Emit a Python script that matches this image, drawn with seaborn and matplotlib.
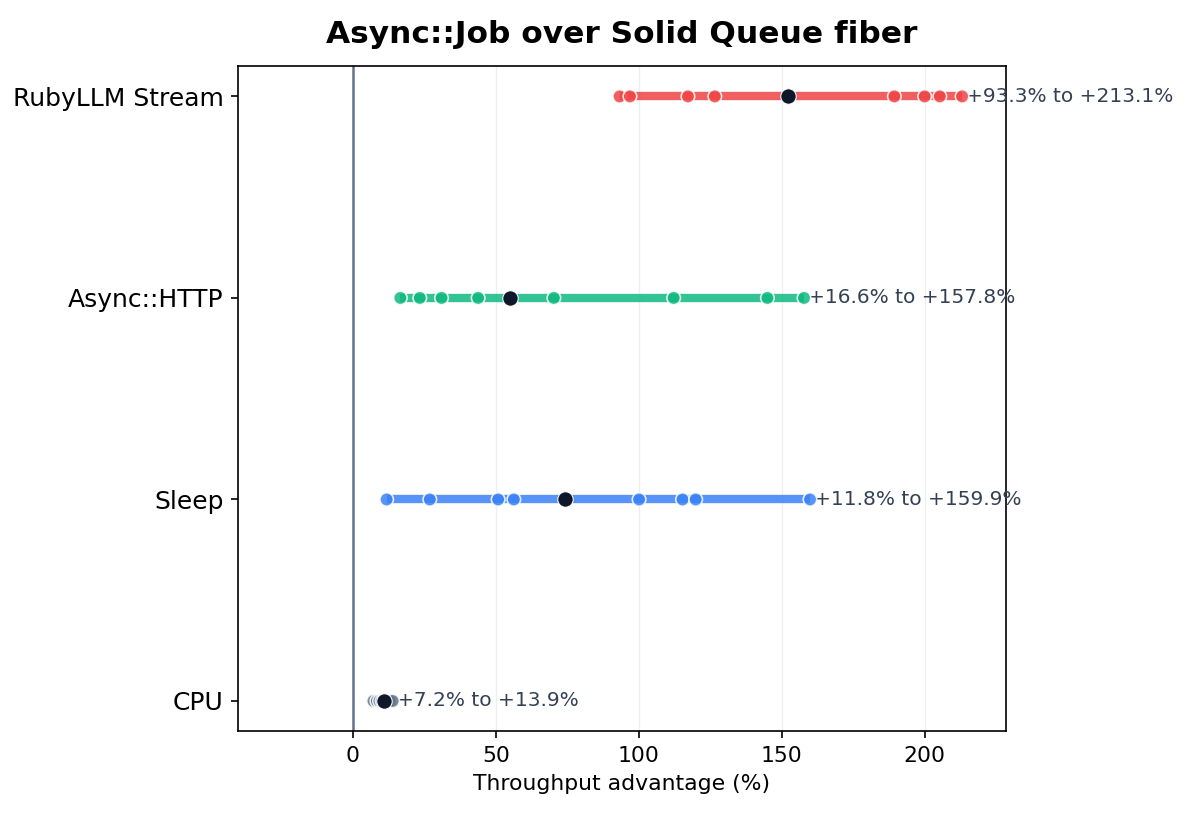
import pandas as pd
import seaborn as sns
import matplotlib.pyplot as plt

workloads = ['CPU', 'Sleep', 'Async::HTTP', 'RubyLLM Stream']
colors = ['#64748b', '#3b82f6', '#10b981', '#ef4444']

cpu_runs = [7.2, 8.4, 9.3, 10.2, 11.0, 12.1, 13.0, 13.9]
sleep_runs = [11.8, 26.9, 50.8, 56.3, 100.1, 115.3, 119.9, 159.9]
http_runs = [16.6, 23.4, 31.0, 43.8, 70.3, 112.2, 145.0, 157.8]
llm_runs = [93.3, 96.9, 117.2, 126.6, 189.4, 200.0, 205.3, 213.1]
centers = [10.8, 74.1, 54.9, 152.1]

runs = [cpu_runs, sleep_runs, http_runs, llm_runs]

rows = []
for i, (name, vals) in enumerate(zip(workloads, runs)):
    for v in vals:
        rows.append({'workload': name, 'pos': i, 'advantage': v})
df = pd.DataFrame(rows)

sns.set_style('ticks', {'text.color': 'black', 'axes.labelcolor': 'black',
                        'xtick.color': 'black', 'ytick.color': 'black',
                        'axes.edgecolor': 'black'})
plt.rcParams['font.family'] = ['DejaVu Sans']

fig = plt.figure(figsize=(1190 / 150, 817 / 150), dpi=150)
ax = fig.add_axes([0.2, 0.105, 0.645, 0.814])

ax.axvline(0, color='#64748b', lw=1.2, zorder=1)

for i, vals in enumerate(runs):
    ax.hlines(i, min(vals), max(vals), color=colors[i], lw=4, alpha=0.85, zorder=2)
    ax.text(max(vals) + 1.5, i, f'+{min(vals):.1f}% to +{max(vals):.1f}%',
            va='center', ha='left', fontsize=9.7, color='#334155')

sns.scatterplot(data=df, x='advantage', y='pos', hue='workload', hue_order=workloads,
                palette=colors, s=42, alpha=0.85, edgecolor='white', linewidth=0.8,
                legend=False, ax=ax, zorder=3)
sns.scatterplot(x=centers, y=list(range(len(workloads))), color='#0f172a', s=55,
                edgecolor='white', linewidth=0.5, ax=ax, zorder=4)

ax.set_yticks(range(len(workloads)))
ax.set_yticklabels(workloads, fontsize=12)
ax.set_ylim(-0.15, 3.15)
ax.set_xlim(-40.2, 228.3)
ax.set_xticks([0, 50, 100, 150, 200])
ax.tick_params(axis='x', labelsize=10.5)
ax.grid(axis='x', color='#eeeeee', lw=0.6)
ax.set_axisbelow(True)
ax.set_xlabel('Throughput advantage (%)', fontsize=10.5)
ax.set_ylabel('')
ax.set_title('Async::Job over Solid Queue fiber', fontsize=15, fontweight='bold', pad=11)

fig.savefig('out.png', dpi=150)
